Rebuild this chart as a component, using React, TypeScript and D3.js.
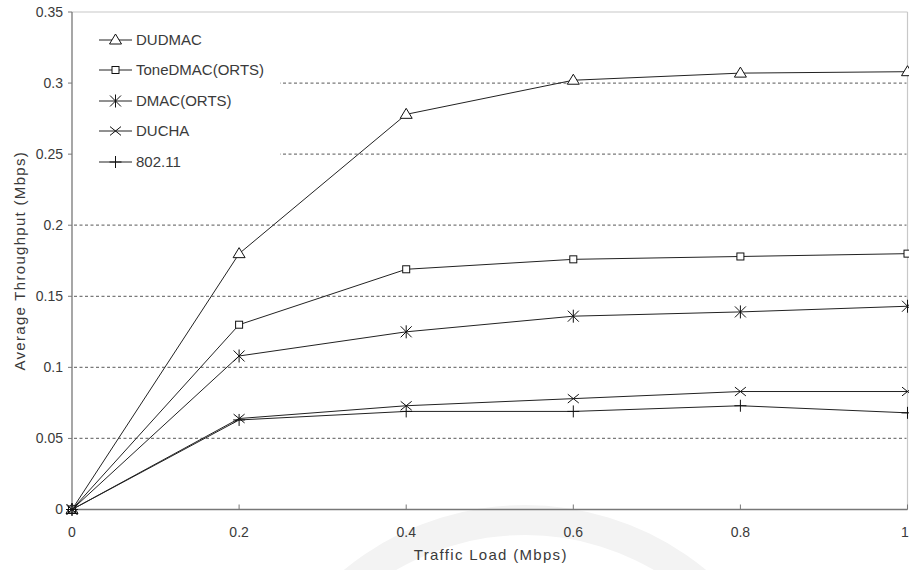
import React from "react";
import * as d3 from "d3";

const loads = [0, 0.2, 0.4, 0.6, 0.8, 1.0];
const seriesNames = ["DUDMAC", "ToneDMAC(ORTS)", "DMAC(ORTS)", "DUCHA", "802.11"];
const dudmac = [0, 0.180, 0.278, 0.302, 0.307, 0.308];
const tonedmac = [0, 0.130, 0.169, 0.176, 0.178, 0.180];
const dmac = [0, 0.108, 0.125, 0.136, 0.139, 0.143];
const ducha = [0, 0.064, 0.073, 0.078, 0.083, 0.083];
const ieee80211 = [0, 0.063, 0.069, 0.069, 0.073, 0.068];
const yTicks = [0, 0.05, 0.1, 0.15, 0.2, 0.25, 0.3, 0.35];
const xTicks = [0, 0.2, 0.4, 0.6, 0.8, 1];
const markers = ["triangle", "square", "asterisk", "cross", "plus"];

const W = 909, H = 570;
const L = 72, R = 907.5, T = 12, B = 509.5;
const FONT = "'Liberation Sans', Arial, sans-serif";
const TXT = "#3a3a3a";

function Marker({ type, x, y }: { type: string; x: number; y: number }) {
  const st = { stroke: "#111", strokeWidth: 1, fill: "none" };
  if (type === "triangle") {
    const s = 5;
    return <path d={`M${x},${y - s - 1}L${x + s + 1},${y + s - 1}L${x - s - 1},${y + s - 1}Z`} {...st} fill="white" />;
  }
  if (type === "square") {
    return <rect x={x - 3.5} y={y - 3.5} width={7} height={7} {...st} fill="white" />;
  }
  if (type === "asterisk") {
    const s = 5.5;
    return <path d={`M${x - s},${y - s}L${x + s},${y + s}M${x - s},${y + s}L${x + s},${y - s}M${x},${y - s - 1}L${x},${y + s + 1}`} {...st} />;
  }
  if (type === "cross") {
    const s = 5.5;
    return <path d={`M${x - s},${y - s * 0.8}L${x + s},${y + s * 0.8}M${x - s},${y + s * 0.8}L${x + s},${y - s * 0.8}`} {...st} />;
  }
  const s = 6;
  return <path d={`M${x - s},${y}L${x + s},${y}M${x},${y - s}L${x},${y + s}`} {...st} />;
}

export default function App() {
  const x = d3.scaleLinear().domain([0, 1]).range([L, R]);
  const y = d3.scaleLinear().domain([0, 0.35]).range([B, T]);
  const data = [dudmac, tonedmac, dmac, ducha, ieee80211];
  const line = d3.line<number>().x((_, i) => x(loads[i])).y((d) => y(d));
  const legendRows = [40, 70, 101, 131, 162];
  const arc = d3.arc()({ innerRadius: 255, outerRadius: 285, startAngle: -1.2, endAngle: 1.2 } as any) || "";

  return (
    <svg width={W} height={H} style={{ position: "absolute", left: 0, top: 0, background: "white" }}>
      <rect x={0} y={0} width={W} height={H} fill="white" />
      {/* faint watermark arc */}
      <path d={arc} transform="translate(525,790)" fill="#f3f3f3" />
      {/* gridlines */}
      {yTicks.filter((t) => t > 0 && t < 0.35).map((t) => (
        <line key={t} x1={L + 2} x2={R - 1} y1={y(t)} y2={y(t)} stroke="#7a7a7a" strokeWidth={1.3} strokeDasharray="3,2.5" />
      ))}
      {/* legend background */}
      <rect x={L + 1} y={T + 1} width={207} height={180} fill="white" />
      {/* frame */}
      <line x1={L} x2={R} y1={T} y2={T} stroke="#c8c8c8" strokeWidth={1.2} />
      <line x1={R} x2={R} y1={T} y2={B} stroke="#c8c8c8" strokeWidth={1.2} />
      <line x1={L} x2={L} y1={T} y2={B} stroke="#777" strokeWidth={1.3} />
      <line x1={L} x2={R} y1={B} y2={B} stroke="#777" strokeWidth={1.3} />
      {/* y ticks */}
      {yTicks.map((t) => (
        <g key={t}>
          <line x1={L - 4} x2={L} y1={y(t)} y2={y(t)} stroke="#777" strokeWidth={1} />
          <text x={L - 9} y={y(t)} dy="0.35em" textAnchor="end" fontFamily={FONT} fontSize={14} fill={TXT}>
            {t === 0 ? "0" : String(t)}
          </text>
        </g>
      ))}
      {/* x ticks */}
      {xTicks.map((t) => (
        <g key={t}>
          <line x1={x(t)} x2={x(t)} y1={B - 5} y2={B} stroke="#777" strokeWidth={1} />
          <text x={t === 1 ? x(t) - 2.5 : x(t)} y={532} dy="0.35em" textAnchor="middle" fontFamily={FONT} fontSize={14} fill={TXT}>
            {String(t)}
          </text>
        </g>
      ))}
      <text x={(L + R) / 2 + 1} y={555} dy="0.35em" textAnchor="middle" fontFamily={FONT} fontSize={15} letterSpacing={1.3} fill={TXT}>
        Traffic Load (Mbps)
      </text>
      <text transform={`translate(20,${(T + B) / 2}) rotate(-90)`} dy="0.35em" textAnchor="middle" fontFamily={FONT} fontSize={15} letterSpacing={1.3} fill={TXT}>
        Average Throughput (Mbps)
      </text>
      {/* series */}
      {data.map((s, si) => (
        <g key={si}>
          <path d={line(s) || ""} fill="none" stroke="#222" strokeWidth={1} />
          {s.map((v, i) => (
            <Marker key={i} type={markers[si]} x={x(loads[i])} y={y(v)} />
          ))}
        </g>
      ))}
      {/* legend */}
      {seriesNames.map((n, i) => (
        <g key={n}>
          <line x1={99} x2={132} y1={legendRows[i]} y2={legendRows[i]} stroke="#222" strokeWidth={1} />
          <Marker type={markers[i]} x={115.5} y={legendRows[i]} />
          <text x={136} y={legendRows[i]} dy="0.35em" fontFamily={FONT} fontSize={15} fill={TXT}>
            {n}
          </text>
        </g>
      ))}
    </svg>
  );
}
